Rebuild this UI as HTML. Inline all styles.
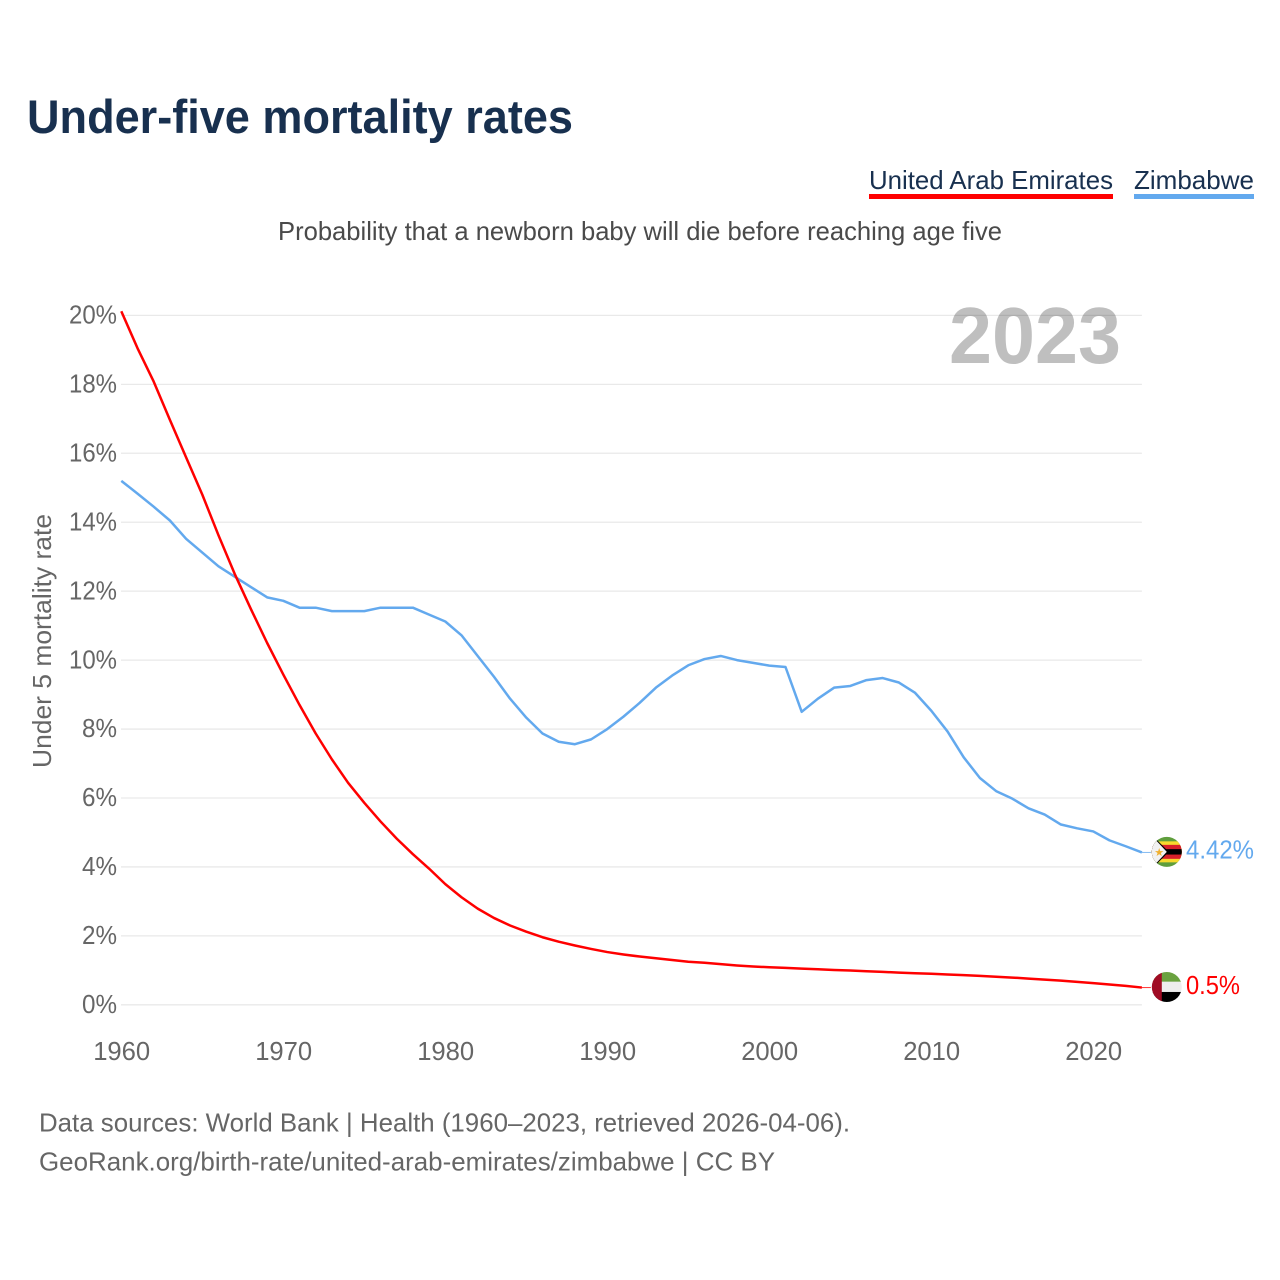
<!DOCTYPE html>
<html lang="en">
<head>
<meta charset="utf-8">
<title>Under-five mortality rates</title>
<style>
html,body{margin:0;padding:0;background:#fff;}
svg{display:block;font-family:"Liberation Sans",sans-serif;}
</style>
</head>
<body>
<svg id="chart" xmlns="http://www.w3.org/2000/svg" width="1280" height="1280" viewBox="0 0 1280 1280">
  <defs>
    <clipPath id="flag-clip"><circle cx="0" cy="0" r="15"/></clipPath>
  </defs>
  <rect x="0" y="0" width="1280" height="1280" fill="#ffffff"/>
  <text x="27" y="133" font-size="47" font-weight="700" fill="#18304f" textLength="546" lengthAdjust="spacingAndGlyphs">Under-five mortality rates</text>
  <g>
    <g>
      <text x="869" y="189" font-size="26" fill="#18304f" textLength="244" lengthAdjust="spacingAndGlyphs">United Arab Emirates</text>
      <rect x="869" y="194" width="244" height="5" fill="#ff0000"/>
    </g>
    <g>
      <text x="1134" y="189" font-size="26" fill="#18304f" textLength="120" lengthAdjust="spacingAndGlyphs">Zimbabwe</text>
      <rect x="1134" y="194" width="120" height="5" fill="#63a9ee"/>
    </g>
  </g>
  <text x="278" y="240" font-size="26" fill="#4a4a4a" textLength="724" lengthAdjust="spacingAndGlyphs">Probability that a newborn baby will die before reaching age five</text>
  <g id="grid-layer"></g>
  <g id="y-tick-layer"></g>
  <g id="x-tick-layer"></g>
  <text transform="translate(51 641) rotate(-90)" text-anchor="middle" font-size="26" fill="#666666" textLength="254" lengthAdjust="spacingAndGlyphs">Under 5 mortality rate</text>
  <text x="949" y="363" font-size="80" font-weight="700" fill="#000000" fill-opacity="0.25" textLength="172" lengthAdjust="spacingAndGlyphs">2023</text>
  <g id="series-layer"></g>

  <g id="flag-zimbabwe">
    <g clip-path="url(#flag-clip)">
      <rect x="-16" y="-16" width="32" height="32" fill="#5f9e3d"/>
      <rect x="-16" y="-10.5" width="32" height="21" fill="#f7d92e"/>
      <rect x="-16" y="-7" width="32" height="14" fill="#d8202a"/>
      <rect x="-16" y="-2.7" width="32" height="5.4" fill="#000000"/>
      <path d="M-16,-16 L-14,-16 L2,0 L-14,16 L-16,16 Z" fill="#000000"/>
      <path d="M-16,-15 L-13,-14 L0,0 L-13,14 L-16,15 Z" fill="#f2f2f2"/>
      <text x="-12.5" y="4" font-size="11" fill="#f0b030" font-family="'DejaVu Sans',sans-serif">★</text>
    </g>
  </g>
  <g id="flag-uae">
    <g clip-path="url(#flag-clip)">
      <rect x="-16" y="-16" width="32" height="11" fill="#6aa23f"/>
      <rect x="-16" y="-5.3" width="32" height="10.6" fill="#eeeeee"/>
      <rect x="-16" y="5" width="32" height="11" fill="#000000"/>
      <rect x="-16" y="-16" width="11" height="32" fill="#a00c24"/>
    </g>
  </g>
  <g>
    <text x="39" y="1131.5" font-size="26" fill="#666666" textLength="811" lengthAdjust="spacingAndGlyphs">Data sources: World Bank | Health (1960–2023, retrieved 2026-04-06).</text>
    <text x="39" y="1170.5" font-size="26" fill="#666666" textLength="736" lengthAdjust="spacingAndGlyphs">GeoRank.org/birth-rate/united-arab-emirates/zimbabwe | CC BY</text>
  </g>
</svg>
<script>
const years = [1960,1961,1962,1963,1964,1965,1966,1967,1968,1969,
  1970,1971,1972,1973,1974,1975,1976,1977,1978,1979,
  1980,1981,1982,1983,1984,1985,1986,1987,1988,1989,
  1990,1991,1992,1993,1994,1995,1996,1997,1998,1999,
  2000,2001,2002,2003,2004,2005,2006,2007,2008,2009,
  2010,2011,2012,2013,2014,2015,2016,2017,2018,2019,
  2020,2021,2022,2023];
const uaeValues = [20.12,19.05,18.08,16.97,15.88,14.8,13.62,12.5,11.48,10.5,
  9.58,8.7,7.87,7.12,6.44,5.86,5.32,4.82,4.37,3.95,
  3.5,3.12,2.79,2.52,2.3,2.12,1.96,1.83,1.72,1.62,
  1.53,1.46,1.4,1.35,1.3,1.25,1.22,1.18,1.14,1.11,
  1.09,1.07,1.05,1.03,1.01,0.995,0.975,0.955,0.935,0.915,
  0.9,0.88,0.86,0.84,0.815,0.79,0.76,0.73,0.7,0.665,
  0.63,0.59,0.55,0.5];
const zimbabweValues = [15.2,14.83,14.45,14.05,13.52,13.12,12.72,12.42,12.12,11.82,
  11.72,11.52,11.52,11.42,11.42,11.42,11.52,11.52,11.52,11.32,
  11.12,10.72,10.12,9.52,8.88,8.33,7.87,7.63,7.56,7.7,
  8.0,8.36,8.76,9.2,9.55,9.85,10.03,10.12,10.0,9.92,
  9.84,9.8,8.5,8.88,9.2,9.25,9.42,9.48,9.35,9.05,
  8.53,7.93,7.18,6.58,6.2,5.98,5.7,5.52,5.23,5.12,
  5.03,4.77,4.6,4.42];
const yTickValues = [0,2,4,6,8,10,12,14,16,18,20];
const xTickYears = [1960,1970,1980,1990,2000,2010,2020];

const NS = 'http://www.w3.org/2000/svg';
const xScale = function (year) { return 121.3 + (year - 1960) * 16.2; };
const yScale = function (value) { return 1004.8 - value * 34.47; };
const plotRight = xScale(2023);

function make(tag, attrs, parent, text) {
  const el = document.createElementNS(NS, tag);
  for (const k in attrs) el.setAttribute(k, attrs[k]);
  if (text !== undefined) el.textContent = text;
  parent.appendChild(el);
  return el;
}

const gridLayer = document.getElementById('grid-layer');
const yTickLayer = document.getElementById('y-tick-layer');
const xTickLayer = document.getElementById('x-tick-layer');
const seriesLayer = document.getElementById('series-layer');

yTickValues.forEach(function (v) {
  const line = make('line', {x1: 121, x2: plotRight, y1: yScale(v), y2: yScale(v), stroke: '#e9e9e9', 'stroke-width': 1.3}, gridLayer);
  
  
  const label = v + '%';
  const tick = make('text', {x: 117, y: yScale(v) + 8.2, 'text-anchor': 'end', 'font-size': 26, fill: '#666666', textLength: label.length === 3 ? 48 : 35, lengthAdjust: 'spacingAndGlyphs'}, yTickLayer, label);
  
  
});

xTickYears.forEach(function (yr) {
  const tick = make('text', {x: xScale(yr) + 0.4, y: 1060, 'text-anchor': 'middle', 'font-size': 26, fill: '#666666', textLength: 57, lengthAdjust: 'spacingAndGlyphs'}, xTickLayer, String(yr));
  
  
});

function drawSeries(values, color, key, flagId) {
  const points = values.map(function (v, i) { return xScale(years[i]).toFixed(2) + ',' + yScale(v).toFixed(2); }).join(' ');
  const line = make('polyline', {points: points, fill: 'none', stroke: color, 'stroke-width': 2.5, 'stroke-linejoin': 'round'}, seriesLayer);
  
  

  const last = values[values.length - 1];
  const endY = yScale(last);
  const leader = make('line', {x1: plotRight, x2: plotRight + 9, y1: endY, y2: endY, stroke: color, 'stroke-width': 1, opacity: 0.8}, seriesLayer);
  
  

  const labelText = last + '%';
  const endLabel = make('text', {x: 1186, y: endY + 6.2, 'font-size': 26, fill: color, textLength: labelText.length === 5 ? 68 : 54, lengthAdjust: 'spacingAndGlyphs'}, seriesLayer, labelText);
  
  

  document.getElementById(flagId).setAttribute('transform', 'translate(1166.8 ' + (endY - 0.6) + ')');
}

drawSeries(zimbabweValues, '#63a9ee', 'zimbabwe', 'flag-zimbabwe');
drawSeries(uaeValues, '#ff0000', 'united-arab-emirates', 'flag-uae');
</script>
</body>
</html>
